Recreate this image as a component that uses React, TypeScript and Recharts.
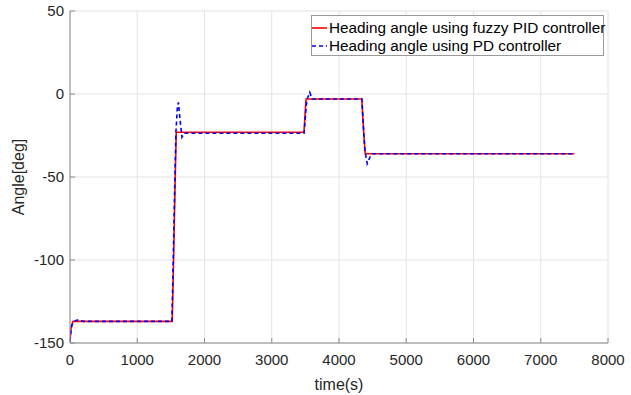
import { LineChart, Line, XAxis, YAxis, CartesianGrid } from 'recharts'

// time (s) and heading angle (deg) for each controller
const fuzzyTime = [0, 10, 20, 45, 1520, 1535, 1550, 1565, 1580, 3480, 3495, 3510, 4340, 4355, 4375, 4390, 7500]
const fuzzyAngle = [-149, -143, -140, -137, -137, -110, -80, -50, -23, -23, -12, -3, -3, -15, -28, -36, -36]

const pdTime = [0, 15, 30, 80, 130, 200, 1515, 1530, 1545, 1560, 1575, 1595, 1612, 1635, 1665, 1700, 3480, 3500, 3520, 3545, 3565, 3600, 4340, 4360, 4385, 4420, 4460, 4500, 7500]
const pdAngle = [-149, -143, -139, -136.5, -136, -137, -137, -110, -80, -50, -23, -9, -5, -15, -26, -23.6, -23.6, -14, -4, -1, 1, -3, -3, -18, -34, -42, -38, -36, -36]

const xTicks = [0, 1000, 2000, 3000, 4000, 5000, 6000, 7000, 8000]
const yTicks = [-150, -100, -50, 0, 50]

const fuzzyData = fuzzyTime.map((t, i) => ({ t, angle: fuzzyAngle[i] }))
const pdData = pdTime.map((t, i) => ({ t, angle: pdAngle[i] }))

const font = '"Liberation Sans", Arial, sans-serif'
const tickStyle = { fill: '#262626', fontSize: 15, fontFamily: font }
const axisGray = '#8c8c8c'

function LegendBox() {
  const row = (color: string, dash: string | undefined, text: string) => (
    <div style={{ display: 'flex', alignItems: 'center', height: 18, whiteSpace: 'nowrap' }}>
      <svg width={17} height={10} style={{ marginRight: 1, flex: 'none' }}>
        <line x1={1} y1={5} x2={16} y2={5} stroke={color} strokeWidth={1.6} strokeDasharray={dash} />
      </svg>
      <span>{text}</span>
    </div>
  )
  return (
    <>
      <div
        style={{
          position: 'absolute',
          left: 311,
          top: 15,
          width: 291,
          height: 39,
          border: '1px solid #9a9a9a',
          background: '#fff',
        }}
      />
      <div
        style={{
          position: 'absolute',
          left: 311,
          top: 19,
          fontFamily: font,
          fontSize: 15.3,
          color: '#000',
          lineHeight: '18px',
        }}
      >
        {row('#ff0000', undefined, 'Heading angle using fuzzy PID controller')}
        {row('#0000ff', '4 3', 'Heading angle using PD controller')}
      </div>
    </>
  )
}

export default function App() {
  return (
    <div style={{ position: 'relative', width: 631, height: 395, background: '#fff' }}>
      <style>{'body{margin:0}'}</style>
      <LineChart width={631} height={395} margin={{ top: 11, right: 23, left: 0, bottom: 0 }}>
        <CartesianGrid xAxisId="b" yAxisId="l" stroke="#e3e3e3" strokeWidth={1} />
        <XAxis
          xAxisId="b"
          type="number"
          dataKey="t"
          domain={[0, 8000]}
          ticks={xTicks}
          allowDataOverflow
          height={52}
          stroke={axisGray}
          tick={tickStyle}
          tickSize={-5}
          tickMargin={16}
          label={{ value: 'time(s)', position: 'insideBottom', offset: 5, style: { fill: '#262626', fontSize: 16, fontFamily: font } }}
        />
        <XAxis
          xAxisId="top"
          orientation="top"
          type="number"
          dataKey="t"
          domain={[0, 8000]}
          ticks={xTicks}
          height={0}
          stroke={axisGray}
          tickSize={-5}
          tickFormatter={() => ''}
        />
        <YAxis
          yAxisId="l"
          type="number"
          domain={[-150, 50]}
          ticks={yTicks}
          allowDataOverflow
          width={70}
          stroke={axisGray}
          tick={tickStyle}
          tickSize={-5}
          tickMargin={11}
          label={{ value: 'Angle[deg]', angle: -90, position: 'insideLeft', offset: 18, style: { fill: '#262626', fontSize: 16, fontFamily: font, textAnchor: 'middle' } }}
        />
        <YAxis
          yAxisId="r"
          orientation="right"
          type="number"
          domain={[-150, 50]}
          ticks={yTicks}
          width={0}
          stroke={axisGray}
          tickSize={-5}
          tickFormatter={() => ''}
        />
        <Line
          xAxisId="b"
          yAxisId="l"
          data={fuzzyData}
          dataKey="angle"
          type="linear"
          stroke="#ff0000"
          strokeWidth={1.6}
          dot={false}
          isAnimationActive={false}
        />
        <Line
          xAxisId="b"
          yAxisId="l"
          data={pdData}
          dataKey="angle"
          type="linear"
          stroke="#0000ff"
          strokeWidth={1.6}
          strokeDasharray="4 3"
          dot={false}
          isAnimationActive={false}
        />
      </LineChart>
      <LegendBox />
    </div>
  )
}
